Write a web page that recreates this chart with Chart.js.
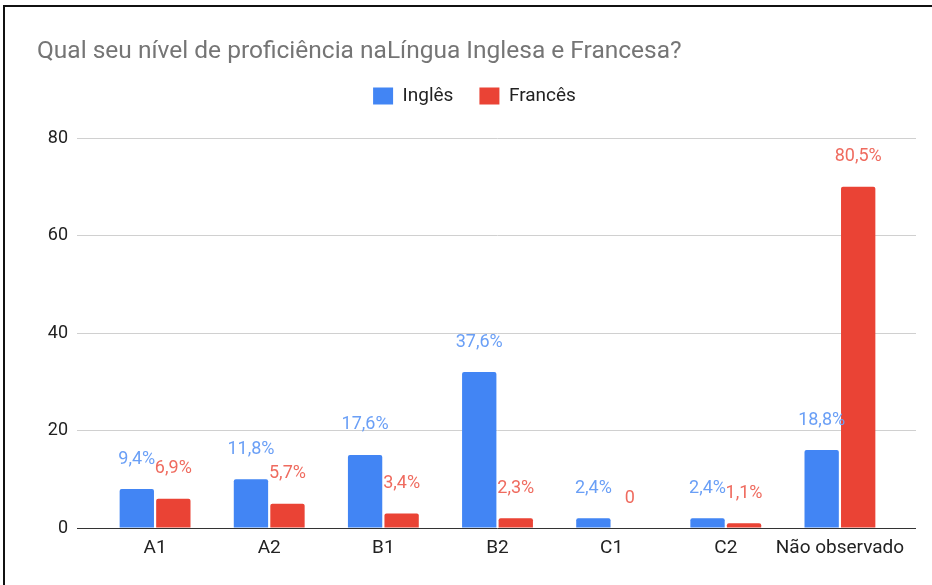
<!DOCTYPE html>
<html lang="pt">
<head>
<meta charset="utf-8">
<title>Proficiência Inglês e Francês</title>
<script src="https://cdn.jsdelivr.net/npm/chart.js@4/dist/chart.umd.min.js"></script>
<style>
  html, body { margin: 0; padding: 0; background: #fff; }
  #caixa { position: relative; width: 932px; height: 585px; overflow: hidden; }
  #moldura {
    position: absolute; left: 3px; top: 5px; right: -10px; bottom: -10px;
    border-left: 2px solid #111; border-top: 2px solid #111;
    pointer-events: none;
  }
</style>
</head>
<body>
<div id="caixa">
  <canvas id="grafico"></canvas>
  <div id="moldura"></div>
</div>
<script>
// dados
const categorias = ['A1', 'A2', 'B1', 'B2', 'C1', 'C2', 'Não observado'];
const ingles = [8, 10, 15, 32, 2, 2, 16];
const frances = [6, 5, 3, 2, 0, 1, 70];
const rotulosIngles = ['9,4%', '11,8%', '17,6%', '37,6%', '2,4%', '2,4%', '18,8%'];
const rotulosFrances = ['6,9%', '5,7%', '3,4%', '2,3%', '0', '1,1%', '80,5%'];

const azul = '#4285f4';
const vermelho = '#ea4335';
const fonte = 'Roboto';

// espaço extra abaixo da legenda
const espacoLegenda = {
  id: 'espacoLegenda',
  beforeInit(chart) {
    if (!chart.legend) return;
    const fitOriginal = chart.legend.fit;
    chart.legend.fit = function () {
      fitOriginal.bind(chart.legend)();
      this.height += 22.5;
    };
  }
};

// rótulos de porcentagem acima das barras
const rotulosBarras = {
  id: 'rotulosBarras',
  afterDatasetsDraw(chart) {
    const ctx = chart.ctx;
    ctx.save();
    ctx.font = '18px ' + fonte;
    ctx.textAlign = 'center';
    ctx.textBaseline = 'middle';
    chart.data.datasets.forEach((ds, i) => {
      const meta = chart.getDatasetMeta(i);
      meta.data.forEach((barra, j) => {
        ctx.fillStyle = ds.corRotulo;
        ctx.fillText(ds.rotulos[j], barra.x, barra.y - 30);
      });
    });
    ctx.restore();
  }
};

new Chart(document.getElementById('grafico'), {
  type: 'bar',
  data: {
    labels: categorias,
    datasets: [
      {
        label: 'Inglês',
        data: ingles,
        backgroundColor: azul,
        borderRadius: 2,
        rotulos: rotulosIngles,
        corRotulo: '#6a9ff6'
      },
      {
        label: 'Francês',
        data: frances,
        backgroundColor: vermelho,
        borderRadius: 2,
        rotulos: rotulosFrances,
        corRotulo: '#ef6b5f'
      }
    ]
  },
  options: {
    responsive: true,
    maintainAspectRatio: false,
    animation: false,
    categoryPercentage: 0.64,
    barPercentage: 0.94,
    layout: { padding: { left: 37, right: 20, top: 0, bottom: 0 } },
    scales: {
      x: {
        grid: { display: false, drawTicks: false },
        border: { display: false },
        ticks: {
          color: '#222',
          font: { family: fonte, size: 19 },
          padding: 9,
          maxRotation: 0,
          minRotation: 0,
          autoSkip: false
        },
        afterFit(scale) { scale.height = 57; }
      },
      y: {
        min: 0,
        max: 80,
        ticks: { stepSize: 20, color: '#222', font: { family: fonte, size: 18 }, padding: 9 },
        grid: {
          color: c => (c.tick && c.tick.value === 0) ? '#333' : '#d0d0d0',
          drawTicks: true,
          tickLength: 21
        },
        border: { display: false },
        afterFit(scale) { scale.width = 61; }
      },
      direita: {
        position: 'right',
        min: 0,
        max: 80,
        ticks: { stepSize: 20, display: false },
        grid: {
          drawOnChartArea: false,
          color: c => (c.tick && c.tick.value === 0) ? '#333' : '#d0d0d0',
          tickLength: 19
        },
        border: { display: false },
        afterFit(scale) { scale.width = 15; }
      }
    },
    plugins: {
      title: {
        display: true,
        text: 'Qual seu nível de proficiência naLíngua Inglesa e Francesa?',
        align: 'start',
        color: '#757575',
        font: { family: fonte, size: 24.5, weight: 'normal', lineHeight: 1 },
        padding: { top: 40, bottom: -4 }
      },
      legend: {
        labels: {
          color: '#222',
          font: { family: fonte, size: 19 },
          boxWidth: 20,
          boxHeight: 17,
          padding: 26
        }
      },
      tooltip: { enabled: false }
    }
  },
  plugins: [espacoLegenda, rotulosBarras]
});
</script>
</body>
</html>
